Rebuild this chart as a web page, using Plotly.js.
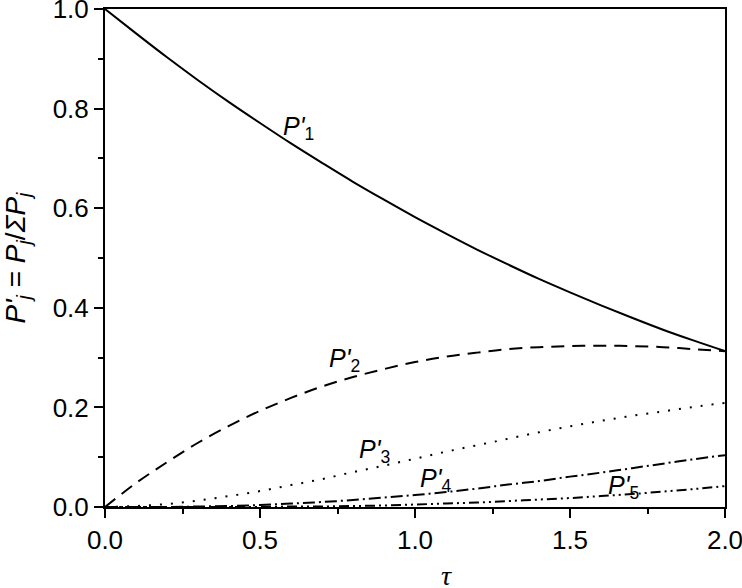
<!DOCTYPE html>
<html>
<head>
<meta charset="utf-8">
<script src="https://cdn.plot.ly/plotly-3.0.1.min.js"></script>
<style>
  html, body { margin: 0; padding: 0; background: #fff; }
  #chart { width: 742px; height: 588px; }
</style>
</head>
<body>
<div id="chart"></div>
<script>
  // values
  const TAU = [0, 0.1, 0.2, 0.3, 0.4, 0.5, 0.6, 0.7, 0.8, 0.9, 1.0,
               1.1, 1.2, 1.3, 1.4, 1.5, 1.6, 1.7, 1.8, 1.9, 2.0];
  const P1 = [1.000, 0.951, 0.903, 0.857, 0.813, 0.771, 0.730, 0.691, 0.653, 0.617, 0.582,
              0.549, 0.517, 0.487, 0.458, 0.431, 0.405, 0.380, 0.356, 0.334, 0.313];
  const P2 = [0.000, 0.048, 0.090, 0.129, 0.163, 0.193, 0.219, 0.242, 0.261, 0.277, 0.291,
              0.302, 0.310, 0.317, 0.321, 0.323, 0.324, 0.323, 0.321, 0.317, 0.313];
  const P3 = [0.000, 0.002, 0.006, 0.013, 0.022, 0.032, 0.044, 0.056, 0.070, 0.083, 0.097,
              0.111, 0.124, 0.137, 0.150, 0.162, 0.173, 0.183, 0.192, 0.201, 0.209];
  const P4 = [0.000, 0.000, 0.000, 0.001, 0.002, 0.004, 0.007, 0.010, 0.014, 0.019, 0.024,
              0.030, 0.037, 0.045, 0.052, 0.061, 0.069, 0.078, 0.087, 0.096, 0.104];
  const P5 = [0.000, 0.000, 0.000, 0.000, 0.000, 0.000, 0.001, 0.001, 0.002, 0.003, 0.005,
              0.007, 0.009, 0.012, 0.015, 0.018, 0.022, 0.026, 0.031, 0.036, 0.042];

  const LABELS = ["1", "2", "3", "4", "5"];
  const LABEL_POS = [[0.623, 0.762], [0.774, 0.295], [0.868, 0.112], [1.065, 0.054], [1.674, 0.040]];

  const FONT = "Arial, 'Liberation Sans', sans-serif";
  const BLACK = "#000";

  const series = [P1, P2, P3, P4, P5];
  const dashes = ["solid", "13px,8px", "2px,9px", "12px,4px,2px,4px", "10px,4px,2px,4px,2px,4px"];

  const traces = series.map((ys, i) => ({
    type: "scatter",
    mode: "lines",
    x: TAU,
    y: ys,
    line: { color: BLACK, width: 2, dash: dashes[i], shape: "spline" },
    showlegend: false,
    hoverinfo: "skip",
  }));

  const annotations = LABELS.map((n, i) => ({
    x: LABEL_POS[i][0],
    y: LABEL_POS[i][1],
    xref: "x",
    yref: "y",
    text: "<i>P'</i><sub>" + n + "</sub>",
    showarrow: false,
    font: { family: FONT, size: 25, color: BLACK },
  }));

  // tau axis label sits right of centre in the reference
  annotations.push({
    x: 1.103,
    y: -0.172,
    xref: "x",
    yref: "paper",
    yanchor: "bottom",
    text: "<i>τ</i>",
    showarrow: false,
    font: { family: "'Liberation Serif', 'DejaVu Serif', serif", size: 28, color: BLACK },
  });

  const axisCommon = {
    showgrid: false,
    zeroline: false,
    showline: true,
    linecolor: BLACK,
    linewidth: 2,
    mirror: true,
    ticks: "outside",
    ticklen: 9,
    tickwidth: 2,
    tickcolor: BLACK,
    tickfont: { family: FONT, size: 26, color: BLACK },
    tickformat: ".1f",
    ticklabeloverflow: "allow",
  };

  const layout = {
    width: 742,
    height: 588,
    paper_bgcolor: "#fff",
    plot_bgcolor: "#fff",
    margin: { l: 105, r: 17, t: 9, b: 81 },
    xaxis: Object.assign({}, axisCommon, {
      range: [0, 2],
      dtick: 0.5,
      minor: { ticks: "outside", ticklen: 5, tickwidth: 2, tickcolor: BLACK, dtick: 0.25 },
    }),
    yaxis: Object.assign({}, axisCommon, {
      range: [0, 1],
      dtick: 0.2,
      minor: { ticks: "outside", ticklen: 5, tickwidth: 2, tickcolor: BLACK, dtick: 0.1 },
      title: {
        text: "<i>P'</i><sub><i>j</i></sub> = <i>P</i><sub><i>j</i></sub>/<i>ΣP</i><sub><i>j</i></sub>",
        font: { family: FONT, size: 28, color: BLACK },
        standoff: 22,
      },
    }),
    annotations: annotations,
  };

  Plotly.newPlot("chart", traces, layout, { displayModeBar: false, staticPlot: true });
</script>
</body>
</html>
